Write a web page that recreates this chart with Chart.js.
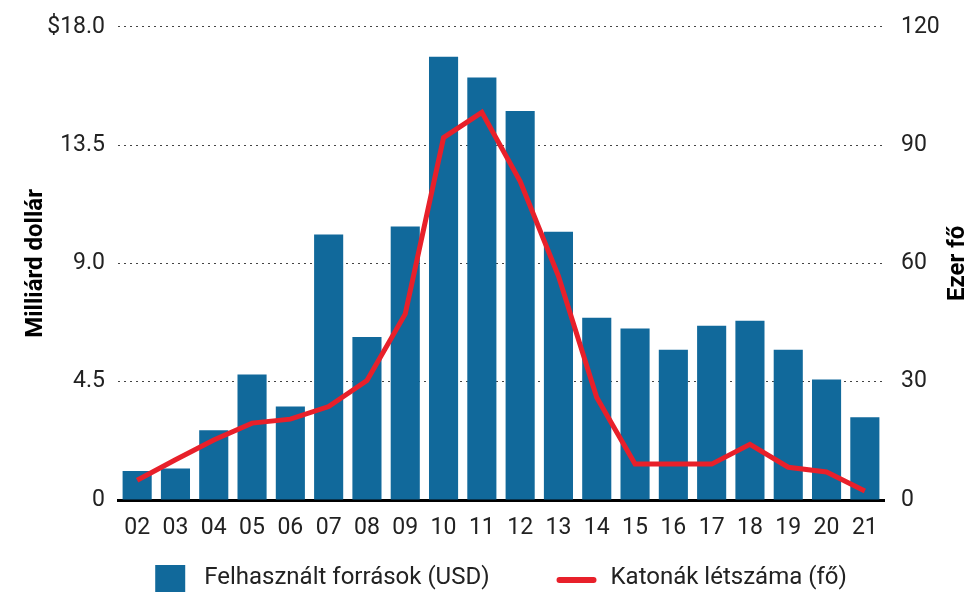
<!DOCTYPE html>
<html>
<head>
<meta charset="utf-8">
<script src="https://cdn.jsdelivr.net/npm/chart.js@4"></script>
<style>
  html, body { margin: 0; padding: 0; background: #fff; }
  #wrap { width: 969px; height: 592px; }
</style>
</head>
<body>
<div id="wrap"><canvas id="chart"></canvas></div>
<script>
// years (20xx)
const years = ["02", "03", "04", "05", "06", "07", "08", "09", "10", "11",
  "12", "13", "14", "15", "16", "17", "18", "19", "20", "21"];
// spending, billion USD
const funds = [1.1, 1.2, 2.65, 4.77, 3.56, 10.1, 6.2, 10.4, 16.86, 16.07,
  14.8, 10.2, 6.93, 6.52, 5.72, 6.63, 6.82, 5.72, 4.58, 3.15];
// troops, thousand
const troops = [5.0, 10.2, 15.2, 19.5, 20.5, 23.7, 30.3, 47.2, 91.9, 98.3,
  80.8, 56.8, 26.0, 9.1, 9.1, 9.1, 14.1, 8.3, 7.1, 2.3];
const leftTicks = [0, 4.5, 9, 13.5, 18];
const rightTicks = [0, 30, 60, 90, 120];

const blue = "#11699b";
const red = "#e8202a";
const font = "Roboto";

// legend under the chart + right axis title (reads bottom to top)
const extras = {
  id: "extras",
  afterDraw(chart) {
    const c = chart.ctx;
    const area = chart.chartArea;
    const y = 578;
    c.save();
    c.font = "24px " + font;
    c.textBaseline = "middle";
    const items = chart.data.datasets.map((ds) => {
      const isLine = ds.type === "line";
      const mark = isLine ? 40 : 30;
      const gap = isLine ? 14 : 19;
      return { ds, isLine, mark, gap, w: mark + gap + c.measureText(ds.label).width };
    });
    const spacing = 67;
    const total = items.reduce((s, it) => s + it.w, 0) + spacing * (items.length - 1);
    let x = (area.left + area.right) / 2 - total / 2;
    items.forEach((it) => {
      if (it.isLine) {
        c.strokeStyle = it.ds.borderColor;
        c.lineWidth = 6;
        c.lineCap = "round";
        c.beginPath();
        c.moveTo(x + 3, y + 2);
        c.lineTo(x + it.mark - 3, y + 2);
        c.stroke();
      } else {
        c.fillStyle = it.ds.backgroundColor;
        c.fillRect(x, 565, it.mark, 30);
      }
      c.fillStyle = "#222";
      c.fillText(it.ds.label, x + it.mark + it.gap, y);
      x += it.w + spacing;
    });

    c.translate(chart.width - 11, (area.top + area.bottom) / 2);
    c.rotate(-Math.PI / 2);
    c.font = "bold 24px " + font;
    c.textAlign = "center";
    c.fillStyle = "#000";
    c.fillText("Ezer fő", 0, 0);
    c.restore();
  },
};

const ctx = document.getElementById("chart").getContext("2d");
new Chart(ctx, {
  type: "bar",
  data: {
    labels: years,
    datasets: [
      {
        label: "Felhasznált források (USD)",
        data: funds,
        backgroundColor: blue,
        yAxisID: "y",
        order: 2,
        categoryPercentage: 1,
        barPercentage: 0.76,
      },
      {
        type: "line",
        label: "Katonák létszáma (fő)",
        data: troops,
        borderColor: red,
        backgroundColor: red,
        borderWidth: 5,
        pointRadius: 0,
        tension: 0,
        yAxisID: "y1",
        order: 1,
      },
    ],
  },
  plugins: [extras],
  options: {
    responsive: true,
    maintainAspectRatio: false,
    animation: false,
    layout: { padding: { top: 19, left: 22, right: 0, bottom: 48 } },
    plugins: {
      tooltip: { enabled: false },
      legend: { display: false },
    },
    scales: {
      x: {
        grid: { display: false },
        border: { display: true, color: "#000", width: 3 },
        ticks: { color: "#222", font: { family: font, size: 23 }, padding: 6 },
        afterFit: (s) => { s.height = 44; },
      },
      y: {
        position: "left",
        min: 0,
        max: 18,
        afterBuildTicks: (s) => { s.ticks = leftTicks.map((v) => ({ value: v })); },
        ticks: {
          color: "#222",
          font: { family: font, size: 23 },
          padding: 13,
          callback: (v) => (v === 18 ? "$18.0" : v === 0 ? "0" : v.toFixed(1)),
        },
        grid: {
          color: "#444",
          lineWidth: 1,
          drawTicks: false,
        },
        border: { display: false, dash: [2, 4] },
        title: {
          display: true,
          text: "Milliárd dollár",
          color: "#000",
          font: { family: font, size: 24, weight: "bold" },
          padding: 0,
        },
        afterFit: (s) => { s.width = 96; },
      },
      y1: {
        position: "right",
        min: 0,
        max: 120,
        afterBuildTicks: (s) => { s.ticks = rightTicks.map((v) => ({ value: v })); },
        ticks: {
          color: "#222",
          font: { family: font, size: 23 },
          padding: 9,
        },
        grid: { display: false },
        border: { display: false },
        afterFit: (s) => { s.width = 85; },
      },
    },
  },
});
</script>
</body>
</html>
